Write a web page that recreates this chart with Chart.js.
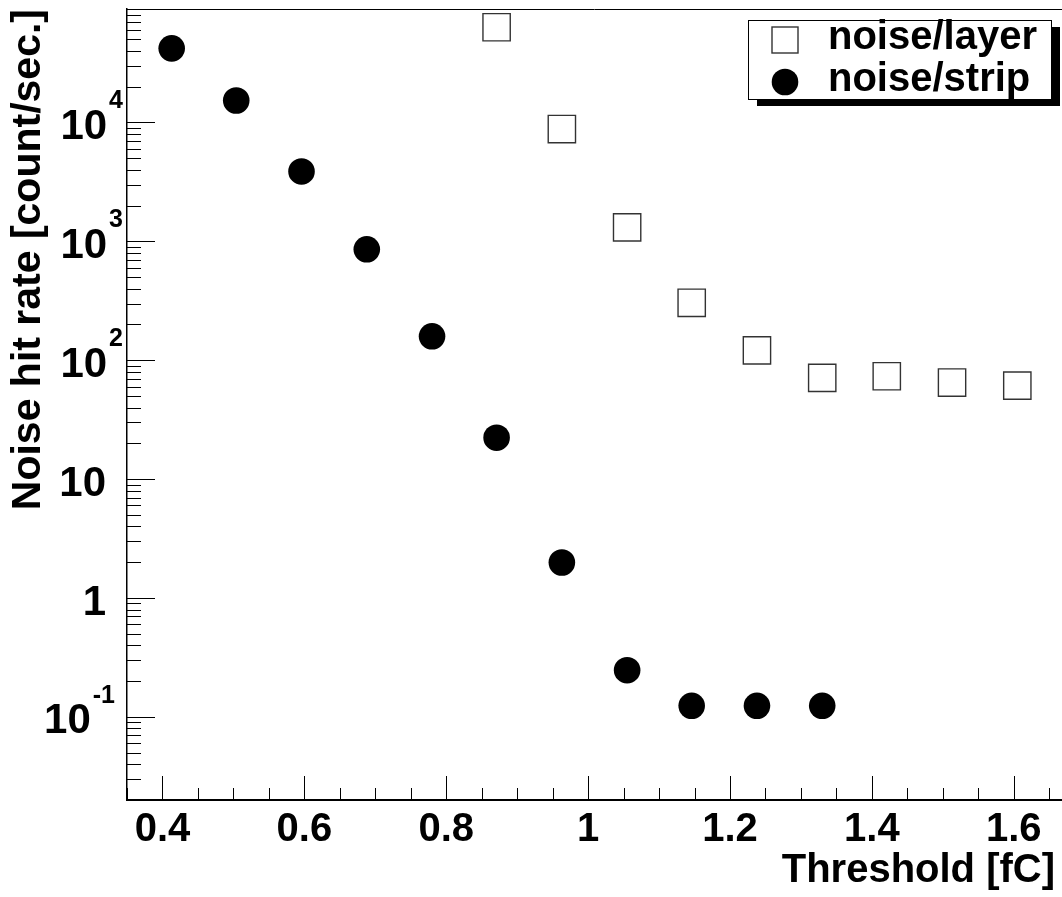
<!DOCTYPE html>
<html>
<head>
<meta charset="utf-8">
<script src="https://cdn.jsdelivr.net/npm/chart.js@4.4.1/dist/chart.umd.min.js"></script>
<style>
html, body { margin: 0; padding: 0; background: #fff; }
#wrap { width: 1062px; height: 897px; }
</style>
</head>
<body>
<div id="wrap"><canvas id="chart_noiseRate" width="1062" height="897"></canvas></div>
<script>
// values
var thresholdStrip = [0.413, 0.504, 0.596, 0.688, 0.780, 0.871, 0.963, 1.055, 1.146, 1.238, 1.330];
var rateStrip = [42000, 15300, 3870, 857, 159, 22.3, 1.99, 0.247, 0.124, 0.124, 0.124];
var thresholdLayer = [0.871, 0.963, 1.055, 1.146, 1.238, 1.330, 1.421, 1.513, 1.605];
var rateLayer = [63200, 8800, 1310, 304, 121, 71, 73.3, 64.9, 61.2];

var xTickValues = [0.4, 0.6, 0.8, 1.0, 1.2, 1.4, 1.6];
var xTickLabels = ['0.4', '0.6', '0.8', '1', '1.2', '1.4', '1.6'];
var yTickValues = [0.1, 1, 10, 100, 1000, 10000];
var yTickBase = ['10', '1', '10', '10', '10', '10'];
var yTickExp = ['-1', '', '', '2', '3', '4'];

var FONT = '"Liberation Sans", Arial, Helvetica, sans-serif';
Chart.defaults.font.family = FONT;
Chart.defaults.color = '#000';

function toPoints(xs, ys) {
    return xs.map(function (x, i) { return { x: x, y: ys[i] }; });
}

var rootStyle = {
    id: 'rootStyle',
    afterDraw: function (chart) {
        var ctx = chart.ctx, area = chart.chartArea;
        var xs = chart.scales.x, ys = chart.scales.y;
        ctx.save();
        ctx.strokeStyle = '#000';

        // top frame line
        ctx.lineWidth = 1;
        ctx.beginPath();
        ctx.moveTo(area.left, area.top + 0.5);
        ctx.lineTo(area.right, area.top + 0.5);
        ctx.stroke();

        // x ticks, pointing up into the frame
        for (var k = Math.ceil(xs.min / 0.05 - 1e-6); k <= Math.floor(xs.max / 0.05 + 1e-6); k++) {
            var px = Math.round(xs.getPixelForValue(k * 0.05)) + 0.5;
            var len = (k % 4 === 0) ? 24 : 12;
            ctx.beginPath();
            ctx.moveTo(px, area.bottom);
            ctx.lineTo(px, area.bottom - len);
            ctx.stroke();
        }

        // y ticks (log), pointing right into the frame
        for (var d = -2; d <= 4; d++) {
            for (var m = 1; m <= 9; m++) {
                var v = m * Math.pow(10, d);
                if (v < ys.min * 0.999 || v > ys.max * 1.001) continue;
                var py = Math.round(ys.getPixelForValue(v)) + 0.5;
                ctx.beginPath();
                ctx.moveTo(area.left, py);
                ctx.lineTo(area.left + (m === 1 ? 28 : 14), py);
                ctx.stroke();
            }
        }

        // y labels with exponents
        ctx.fillStyle = '#000';
        ctx.textBaseline = 'middle';
        ctx.textAlign = 'right';
        for (var i = 0; i < yTickValues.length; i++) {
            var y = ys.getPixelForValue(yTickValues[i]);
            if (yTickExp[i]) {
                var right = yTickExp[i].charAt(0) === '-' ? 115 : 123;
                ctx.font = 'bold 25px ' + FONT;
                var ew = ctx.measureText(yTickExp[i]).width;
                ctx.fillText(yTickExp[i], right, y - 21);
                ctx.font = 'bold 42px ' + FONT;
                ctx.fillText(yTickBase[i], right - ew - 2, y + 5);
            } else {
                ctx.font = 'bold 42px ' + FONT;
                ctx.fillText(yTickBase[i], 106, y + 5);
            }
        }

        // x axis title, right aligned under the frame
        ctx.font = 'bold 40px ' + FONT;
        ctx.textAlign = 'right';
        ctx.textBaseline = 'middle';
        ctx.fillText('Threshold [fC]', 1055, 871);

        // legend box with shadow
        var lx = 748, ly = 20, lw = 303, lh = 79;
        ctx.fillStyle = '#000';
        ctx.fillRect(lx + 9, ly + 7, lw, lh);
        ctx.fillStyle = '#fff';
        ctx.fillRect(lx, ly, lw, lh);
        ctx.lineWidth = 1;
        ctx.strokeRect(lx + 0.5, ly + 0.5, lw, lh);

        var rows = [40, 82];
        chart.data.datasets.forEach(function (ds, j) {
            var cy = rows[j];
            ctx.lineWidth = ds.borderWidth;
            ctx.strokeStyle = ds.borderColor;
            ctx.fillStyle = ds.backgroundColor;
            if (ds.pointStyle === 'rect') {
                ctx.fillRect(772, cy - 13, 26, 26);
                ctx.strokeRect(772, cy - 13, 26, 26);
            } else {
                ctx.beginPath();
                ctx.arc(785, cy, ds.pointRadius, 0, Math.PI * 2);
                ctx.fill();
            }
            ctx.fillStyle = '#000';
            ctx.font = 'bold 40px ' + FONT;
            ctx.textAlign = 'left';
            ctx.textBaseline = 'alphabetic';
            ctx.fillText(ds.label, 828, cy + 9);
        });
        ctx.restore();
    }
};

var chart_noiseRate = new Chart(document.getElementById('chart_noiseRate'), {
    type: 'scatter',
    data: {
        datasets: [
            {
                label: 'noise/layer',
                data: toPoints(thresholdLayer, rateLayer),
                pointStyle: 'rect',
                pointRadius: 19.3,
                backgroundColor: '#fff',
                borderColor: '#333',
                borderWidth: 1.4,
                showLine: false
            },
            {
                label: 'noise/strip',
                data: toPoints(thresholdStrip, rateStrip),
                pointStyle: 'circle',
                pointRadius: 13.3,
                backgroundColor: '#000',
                borderColor: '#000',
                borderWidth: 0,
                showLine: false
            }
        ]
    },
    options: {
        animation: false,
        responsive: false,
        events: [],
        layout: { autoPadding: false, padding: { top: 9, right: 0, bottom: 0, left: 0 } },
        plugins: {
            legend: { display: false },
            tooltip: { enabled: false }
        },
        scales: {
            x: {
                type: 'linear',
                position: 'bottom',
                min: 0.35,
                max: 1.668,
                grid: { display: false, drawTicks: false },
                border: { display: true, color: '#000', width: 2 },
                ticks: {
                    padding: 6,
                    font: { size: 40, weight: 'bold' },
                    color: '#000',
                    maxRotation: 0,
                    autoSkip: false,
                    callback: function (value) {
                        var i = xTickValues.indexOf(value);
                        return i >= 0 ? xTickLabels[i] : '';
                    }
                },
                afterBuildTicks: function (scale) {
                    scale.ticks = xTickValues.map(function (v) { return { value: v }; });
                },
                afterFit: function (scale) {
                    scale.height = 97;
                    scale.paddingLeft = 0;
                    scale.paddingRight = 0;
                },
                title: { display: false }
            },
            y: {
                type: 'logarithmic',
                position: 'left',
                min: 0.02,
                max: 90000,
                grid: { display: false, drawTicks: false },
                border: { display: true, color: '#000', width: 1.5 },
                ticks: { display: false },
                afterBuildTicks: function (scale) {
                    scale.ticks = yTickValues.map(function (v) { return { value: v }; });
                },
                afterFit: function (scale) {
                    scale.width = 127;
                    scale.paddingTop = 0;
                    scale.paddingBottom = 0;
                },
                title: {
                    display: true,
                    text: 'Noise hit rate [count/sec.]',
                    align: 'end',
                    color: '#000',
                    font: { size: 41, weight: 'bold' },
                    padding: { top: 4, bottom: 0 }
                }
            }
        }
    },
    plugins: [rootStyle]
});
</script>
</body>
</html>
